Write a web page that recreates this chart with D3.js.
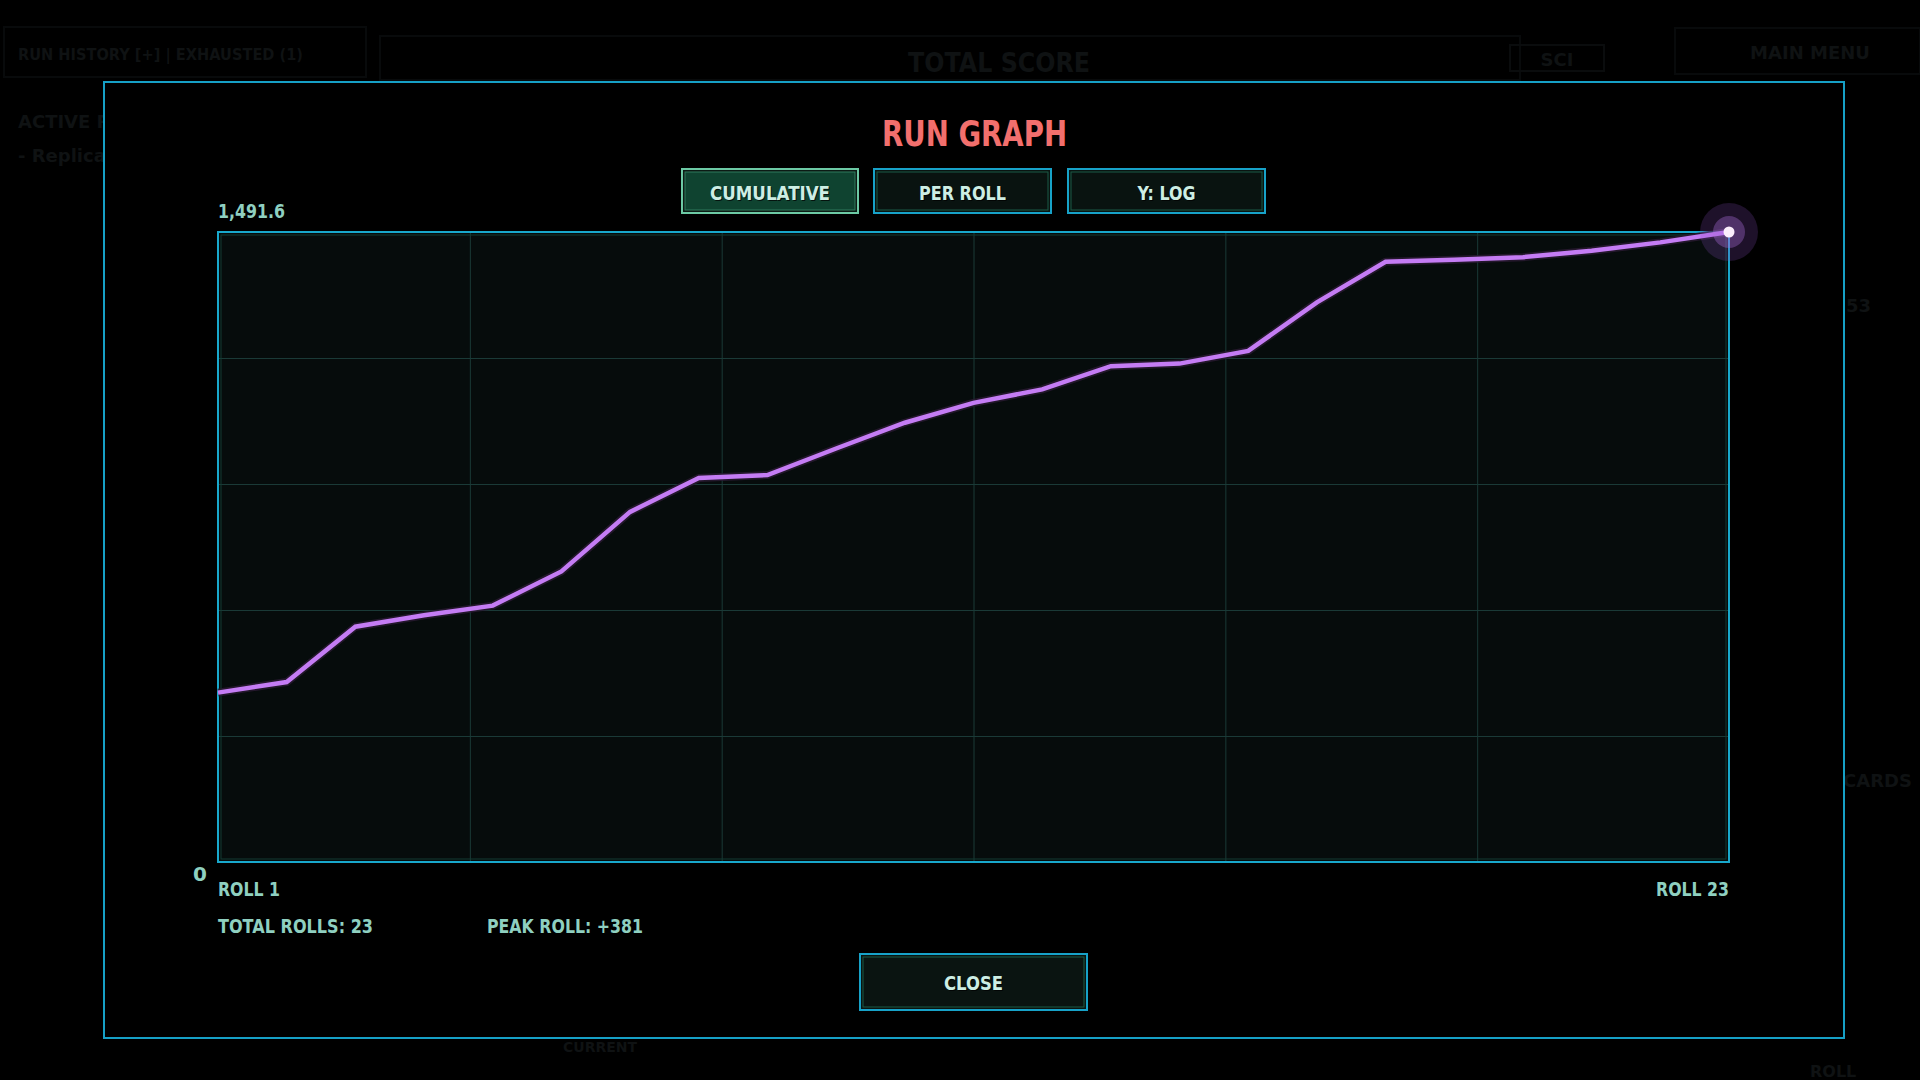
<!DOCTYPE html>
<html>
<head>
<meta charset="utf-8">
<script src="https://cdn.jsdelivr.net/npm/d3@7"></script>
<style>
  html, body { margin: 0; padding: 0; background: #000; }
  svg { display: block; }
  text { font-family: "DejaVu Sans", sans-serif; }
</style>
</head>
<body>
<svg id="chart" width="1920" height="1080"></svg>
<script>
// ---- data ----
const rolls = [1,2,3,4,5,6,7,8,9,10,11,12,13,14,15,16,17,18,19,20,21,22,23];
const cumulative = [401, 426, 557, 584, 607, 688, 829, 909, 916, 979, 1040, 1087, 1119, 1174, 1180, 1210, 1325, 1421, 1426, 1432, 1447, 1467, 1491.6];
const yMaxLabel = "1,491.6";
const yMinLabel = "0";
const xStartLabel = "ROLL 1";
const xEndLabel = "ROLL 23";
const buttons = ["CUMULATIVE", "PER ROLL", "Y: LOG"];
const stats = ["TOTAL ROLLS: 23", "PEAK ROLL: +381"];

const svg = d3.select("#chart");

// condensed-looking text helper (compress glyphs to target width)
function ctext(sel, w) {
  return sel.attr("textLength", w).attr("lengthAdjust", "spacingAndGlyphs");
}

// ---- faint background UI (dimmed behind modal) ----
svg.append("rect").attr("x", 0).attr("y", 0).attr("width", 1920).attr("height", 1080).attr("fill", "#000");
const bg = svg.append("g").attr("fill", "#0f1213").attr("font-weight", "bold");
bg.append("rect").attr("x", 4).attr("y", 27).attr("width", 362).attr("height", 50).attr("fill", "none").attr("stroke", "#080a0b").attr("stroke-width", 2);
bg.append("rect").attr("x", 380).attr("y", 36).attr("width", 1140).attr("height", 44).attr("fill", "none").attr("stroke", "#080a0b").attr("stroke-width", 2);
bg.append("rect").attr("x", 1675).attr("y", 28).attr("width", 245).attr("height", 46).attr("fill", "none").attr("stroke", "#080a0b").attr("stroke-width", 2);
ctext(bg.append("text").attr("x", 18).attr("y", 60).attr("font-size", 15).text("RUN HISTORY [+]   |   EXHAUSTED  (1)"), 285);
ctext(bg.append("text").attr("x", 908).attr("y", 72).attr("font-size", 26).text("TOTAL SCORE"), 182);
bg.append("rect").attr("x", 1510).attr("y", 45).attr("width", 94).attr("height", 26).attr("fill", "none").attr("stroke", "#0a0c0d").attr("stroke-width", 2);
bg.append("text").attr("x", 1557).attr("y", 66).attr("text-anchor", "middle").attr("font-size", 18).text("SCI");
bg.append("text").attr("x", 1810).attr("y", 59).attr("text-anchor", "middle").attr("font-size", 18).text("MAIN MENU");
bg.append("text").attr("x", 18).attr("y", 128).attr("font-size", 18).text("ACTIVE R");
bg.append("text").attr("x", 18).attr("y", 162).attr("font-size", 18).text("- Replica");
bg.append("text").attr("x", 1846).attr("y", 312).attr("font-size", 18).text("53");
bg.append("text").attr("x", 1843).attr("y", 787).attr("font-size", 18).text("CARDS");
bg.append("text").attr("x", 563).attr("y", 1052).attr("font-size", 14).text("CURRENT");
bg.append("text").attr("x", 1810).attr("y", 1077).attr("font-size", 16).text("ROLL");

// ---- modal ----
const modal = { x: 104, y: 82, w: 1740, h: 956 };
svg.append("rect").attr("x", modal.x).attr("y", modal.y).attr("width", modal.w).attr("height", modal.h)
  .attr("fill", "#000").attr("stroke", "#16a0c6").attr("stroke-width", 2);

const cx = modal.x + modal.w / 2;

ctext(svg.append("text").attr("x", cx - 92).attr("y", 146)
  .attr("font-size", 36).attr("font-weight", "bold").attr("fill", "#f26f6d").text("RUN GRAPH"), 185);

// ---- toggle buttons ----
const btnBoxes = [
  { x: 682, w: 176, tw: 120 }, { x: 874, w: 177, tw: 87 }, { x: 1068, w: 197, tw: 58 }
];
const btnG = svg.append("g");
buttons.forEach((label, i) => {
  const b = btnBoxes[i];
  const active = i === 0;
  const g = btnG.append("g");
  g.append("rect").attr("x", b.x).attr("y", 169).attr("width", b.w).attr("height", 44)
    .attr("fill", active ? "#0c1a14" : "#0a1411")
    .attr("stroke", active ? "#6cc9a4" : "#17a2c8").attr("stroke-width", 2);
  g.append("rect").attr("x", b.x + 3).attr("y", 172).attr("width", b.w - 6).attr("height", 38)
    .attr("fill", active ? "#0f4330" : "#091310")
    .attr("stroke", active ? "#2e7a5c" : "#1b5a46").attr("stroke-width", 1);
  const tx = b.x + b.w / 2 - b.tw / 2;
  ctext(g.append("text").attr("x", tx + 1).attr("y", 201)
    .attr("font-size", 20).attr("font-weight", "bold").attr("fill", "#000").attr("opacity", 0.7).text(label), b.tw);
  ctext(g.append("text").attr("x", tx).attr("y", 200)
    .attr("font-size", 20).attr("font-weight", "bold").attr("fill", "#cdeee4").text(label), b.tw);
});

// ---- plot ----
const plot = { left: 218, right: 1729, top: 232, bottom: 862 };
const x = d3.scaleLinear().domain([rolls[0], rolls[rolls.length - 1]]).range([plot.left, plot.right]);
const yMax = cumulative[cumulative.length - 1];
const y = d3.scaleLinear().domain([0, yMax]).range([plot.bottom, plot.top]);

svg.append("rect").attr("x", plot.left).attr("y", plot.top)
  .attr("width", plot.right - plot.left).attr("height", plot.bottom - plot.top)
  .attr("fill", "#060c0c");

// grid via axes
const xGridVals = d3.range(1, 6).map(k => rolls[0] + (rolls[rolls.length - 1] - rolls[0]) * k / 6);
const yGridVals = d3.range(1, 5).map(k => yMax * k / 5);
const gx = svg.append("g").attr("transform", `translate(0,${plot.bottom})`)
  .call(d3.axisBottom(x).tickValues(xGridVals).tickSize(-(plot.bottom - plot.top)).tickFormat(""));
const gy = svg.append("g").attr("transform", `translate(${plot.left},0)`)
  .call(d3.axisLeft(y).tickValues(yGridVals).tickSize(-(plot.right - plot.left)).tickFormat(""));
[gx, gy].forEach(g => {
  g.select(".domain").remove();
  g.selectAll(".tick line").attr("stroke", "#1a3a37").attr("stroke-width", 1);
});

// inner and outer frame
svg.append("rect").attr("x", plot.left + 3).attr("y", plot.top + 3)
  .attr("width", plot.right - plot.left - 6).attr("height", plot.bottom - plot.top - 6)
  .attr("fill", "none").attr("stroke", "#123a33").attr("stroke-width", 1);
svg.append("rect").attr("x", plot.left).attr("y", plot.top)
  .attr("width", plot.right - plot.left).attr("height", plot.bottom - plot.top)
  .attr("fill", "none").attr("stroke", "#18a8cc").attr("stroke-width", 2);

// line
const line = d3.line().x((d, i) => x(rolls[i])).y(d => y(d));
svg.append("path").datum(cumulative).attr("d", line)
  .attr("fill", "none").attr("stroke", "#2a1a33").attr("stroke-width", 8).attr("stroke-linejoin", "round").attr("opacity", 0.8);
svg.append("path").datum(cumulative).attr("d", line)
  .attr("fill", "none").attr("stroke", "#c47cf4").attr("stroke-width", 4.5).attr("stroke-linejoin", "miter");

// end marker
const last = cumulative.length - 1;
const ex = x(rolls[last]), ey = y(cumulative[last]);
svg.append("circle").attr("cx", ex).attr("cy", ey).attr("r", 29).attr("fill", "#8a4cc0").attr("opacity", 0.22);
svg.append("circle").attr("cx", ex).attr("cy", ey).attr("r", 16).attr("fill", "#b070e0").attr("opacity", 0.35);
svg.append("circle").attr("cx", ex).attr("cy", ey).attr("r", 5.5).attr("fill", "#fbeefc");

// axis labels
const lblColor = "#8fd0c0";
const fs = 20;
ctext(svg.append("text").attr("x", plot.left).attr("y", 218).attr("font-size", fs).attr("font-weight", "bold").attr("fill", lblColor).text(yMaxLabel), 67);
svg.append("text").attr("x", 207).attr("y", 881).attr("text-anchor", "end").attr("font-size", fs).attr("font-weight", "bold").attr("fill", lblColor).text(yMinLabel);
ctext(svg.append("text").attr("x", plot.left).attr("y", 896).attr("font-size", fs).attr("font-weight", "bold").attr("fill", lblColor).text(xStartLabel), 62);
ctext(svg.append("text").attr("x", plot.right - 73).attr("y", 896).attr("font-size", fs).attr("font-weight", "bold").attr("fill", lblColor).text(xEndLabel), 73);
ctext(svg.append("text").attr("x", plot.left).attr("y", 933).attr("font-size", fs).attr("font-weight", "bold").attr("fill", lblColor).text(stats[0]), 155);
ctext(svg.append("text").attr("x", 487).attr("y", 933).attr("font-size", fs).attr("font-weight", "bold").attr("fill", lblColor).text(stats[1]), 156);

// close button
const cb = { x: 860, y: 954, w: 227, h: 56 };
svg.append("rect").attr("x", cb.x).attr("y", cb.y).attr("width", cb.w).attr("height", cb.h)
  .attr("fill", "#0a1411").attr("stroke", "#17a2c8").attr("stroke-width", 2);
svg.append("rect").attr("x", cb.x + 3).attr("y", cb.y + 3).attr("width", cb.w - 6).attr("height", cb.h - 6)
  .attr("fill", "none").attr("stroke", "#1b5a46").attr("stroke-width", 1);
const ctw = 59, ctx0 = cb.x + cb.w / 2 - ctw / 2;
ctext(svg.append("text").attr("x", ctx0 + 1).attr("y", cb.y + 37)
  .attr("font-size", 20).attr("font-weight", "bold").attr("fill", "#000").attr("opacity", 0.7).text("CLOSE"), ctw);
ctext(svg.append("text").attr("x", ctx0).attr("y", cb.y + 36)
  .attr("font-size", 20).attr("font-weight", "bold").attr("fill", "#cdeee4").text("CLOSE"), ctw);
</script>
</body>
</html>
